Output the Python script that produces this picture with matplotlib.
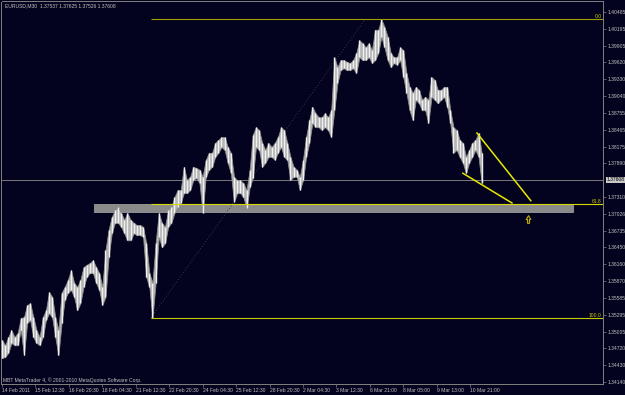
import numpy as np
import matplotlib
matplotlib.use('Agg')
import matplotlib.pyplot as plt
from matplotlib.patches import Rectangle
from matplotlib.path import Path
import matplotlib.transforms as mtransforms

# ---------------- data ----------------
symbol_text = "EURUSD,M30  1.37537 1.37625 1.37526 1.37608"
copyright_text = "MBT MetaTrader 4, \u00a9 2001-2010 MetaQuotes Software Corp."

bars_per_sample = 6  # one sample = 6 M30 bars

highs = [1.3486, 1.3477, 1.3491, 1.3503, 1.3491, 1.3498, 1.3524, 1.3525, 1.3546, 1.3549,
         1.3525, 1.3503, 1.3491, 1.3525, 1.3537, 1.3568, 1.3560, 1.3525, 1.3503, 1.3567,
         1.3577, 1.3589, 1.3606, 1.3584, 1.3577, 1.3589, 1.3611, 1.3615, 1.3618, 1.3623,
         1.3611, 1.3601, 1.3577, 1.3640, 1.3675, 1.3697, 1.3709, 1.3714, 1.3704, 1.3692,
         1.3704, 1.3692, 1.3687, 1.3683, 1.3683, 1.3680, 1.3652, 1.3601, 1.3584, 1.3652,
         1.3704, 1.3687, 1.3680, 1.3709, 1.3714, 1.3731, 1.3743, 1.3743, 1.3783, 1.3760,
         1.3766, 1.3783, 1.3781, 1.3778, 1.3766, 1.3795, 1.3807, 1.3807, 1.3824, 1.3829,
         1.3834, 1.3834, 1.3817, 1.3807, 1.3766, 1.3760, 1.3760, 1.3755, 1.3743, 1.3778,
         1.3838, 1.3851, 1.3846, 1.3824, 1.3812, 1.3824, 1.3817, 1.3824, 1.3834, 1.3851,
         1.3846, 1.3824, 1.3800, 1.3783, 1.3778, 1.3766, 1.3795, 1.3834, 1.3863, 1.3886,
         1.3875, 1.3868, 1.3868, 1.3875, 1.3868, 1.3880, 1.3971, 1.3954, 1.3966, 1.3966,
         1.3963, 1.3961, 1.3966, 1.3978, 1.4000, 1.3995, 1.3988, 1.3995, 1.3983, 1.4018,
         1.4018, 1.4036, 1.4023, 1.4006, 1.3978, 1.3971, 1.3971, 1.3988, 1.3983, 1.3944,
         1.3920, 1.3910, 1.3920, 1.3915, 1.3898, 1.3903, 1.3898, 1.3937, 1.3932, 1.3915,
         1.3915, 1.3920, 1.3920, 1.3880, 1.3851, 1.3846, 1.3829, 1.3824, 1.3800, 1.3812,
         1.3824, 1.3829, 1.3841, 1.3807]

lows = [1.3455, 1.3457, 1.3464, 1.3481, 1.3477, 1.3477, 1.3503, 1.3460, 1.3515, 1.3520,
        1.3491, 1.3481, 1.3477, 1.3491, 1.3520, 1.3532, 1.3525, 1.3491, 1.3460, 1.3515,
        1.3555, 1.3567, 1.3572, 1.3560, 1.3537, 1.3549, 1.3577, 1.3594, 1.3601, 1.3601,
        1.3584, 1.3572, 1.3546, 1.3560, 1.3628, 1.3669, 1.3687, 1.3687, 1.3680, 1.3669,
        1.3657, 1.3657, 1.3669, 1.3666, 1.3666, 1.3663, 1.3594, 1.3577, 1.3524, 1.3584,
        1.3663, 1.3645, 1.3652, 1.3680, 1.3687, 1.3704, 1.3714, 1.3721, 1.3738, 1.3738,
        1.3743, 1.3760, 1.3764, 1.3755, 1.3704, 1.3766, 1.3778, 1.3783, 1.3800, 1.3807,
        1.3817, 1.3812, 1.3790, 1.3772, 1.3723, 1.3738, 1.3738, 1.3731, 1.3712, 1.3748,
        1.3764, 1.3817, 1.3812, 1.3783, 1.3790, 1.3800, 1.3800, 1.3795, 1.3807, 1.3817,
        1.3800, 1.3795, 1.3760, 1.3766, 1.3766, 1.3743, 1.3760, 1.3800, 1.3824, 1.3858,
        1.3851, 1.3851, 1.3846, 1.3851, 1.3846, 1.3834, 1.3880, 1.3927, 1.3949, 1.3952,
        1.3949, 1.3949, 1.3952, 1.3944, 1.3971, 1.3966, 1.3966, 1.3971, 1.3961, 1.3966,
        1.3978, 1.4006, 1.3988, 1.3966, 1.3954, 1.3961, 1.3958, 1.3966, 1.3937, 1.3910,
        1.3880, 1.3863, 1.3898, 1.3892, 1.3880, 1.3880, 1.3858, 1.3903, 1.3898, 1.3892,
        1.3898, 1.3903, 1.3886, 1.3858, 1.3807, 1.3812, 1.3800, 1.3790, 1.3772, 1.3790,
        1.3800, 1.3812, 1.3800, 1.3755]

last_close = 1.37608

fib_low = 1.3524
fib_high = 1.4036
fib_ratios = [0.0, 0.618, 1.0]
fib_labels = ["0.0", "61.8", "100.0"]
fib_start_bar = 285
fib_end_bar = 695

zone_start_bar = 177
zone_end_bar = 1092
zone_low = 1.3706
zone_high = 1.3720

upper_line_bars = [909, 1012]
upper_line_prices = [1.3841, 1.3725]
lower_line_bars = [882, 976]
lower_line_prices = [1.3772, 1.3721]

arrow_bar = 1007
arrow_price = 1.3694

price_ticks = [1.40485, 1.40195, 1.39905, 1.39620, 1.39330, 1.39040, 1.38755, 1.38465,
               1.38175, 1.37890, 1.37310, 1.37026, 1.36735, 1.36450, 1.36160, 1.35870,
               1.35585, 1.35295, 1.35005, 1.34720, 1.34430, 1.34140]

date_labels = ["14 Feb 2011", "15 Feb 12:30", "16 Feb 20:30", "18 Feb 04:30",
               "21 Feb 12:30", "22 Feb 20:30", "24 Feb 04:30", "25 Feb 12:30",
               "28 Feb 20:30", "2 Mar 04:30", "3 Mar 12:30", "6 Mar 21:00",
               "8 Mar 05:00", "9 Mar 13:00", "10 Mar 21:00"]
bars_per_date_label = 64

# ---------------- style ----------------
BG = '#03031f'
TXT = '#c0c0c0'
AXC = '#808080'
FONT = 'Liberation Sans'
FS = 3.6

W, H = 625, 395
fig = plt.figure(figsize=(W / 100, H / 100), dpi=100, facecolor=BG)
left_px, right_px, top_px, bot_px = 1.5, 603.0, 1.5, 384.0
ax = fig.add_axes([left_px / W, (H - bot_px) / H, (right_px - left_px) / W, (bot_px - top_px) / H])
ax.set_facecolor(BG)

px_per_bar = 0.5225
x0_px = 2.0
ax.set_xlim((left_px - x0_px) / px_per_bar, (right_px - x0_px) / px_per_bar)
p_per_px = (1.40485 - 1.34140) / 370.0
ax.set_ylim(1.40485 - (bot_px - 12) * p_per_px, 1.40485 + (12 - top_px) * p_per_px)

# zone rectangle
ax.add_patch(Rectangle((zone_start_bar, zone_low), zone_end_bar - zone_start_bar,
                       zone_high - zone_low, facecolor='#8a8a8a', edgecolor='#9a9a9a',
                       lw=0.6, zorder=1))

# current price line
ax.axhline(last_close, color='#7a7a7a', lw=0.7, zorder=1)

# price bars: a continuous high-low band plus individual bar ranges
xs = np.arange(len(highs)) * bars_per_sample
ax.fill_between(xs, lows, highs, facecolor='#b4b4b4', edgecolor='#8a8a8a', lw=0.6, zorder=3)
ax.vlines(xs, lows, highs, color='#f0f0f0', lw=1.0, zorder=4)

# fibonacci
xmax = ax.get_xlim()[1]
fib_levels = [fib_high - r * (fib_high - fib_low) for r in fib_ratios]
fib_cols = ['#a0a000', '#d8d800', '#c8c800']
tr = mtransforms.blended_transform_factory(ax.transAxes, ax.transData)
for lvl, lab, c in zip(fib_levels, fib_labels, fib_cols):
    ax.hlines(lvl, fib_start_bar, xmax, color=c, lw=0.8, zorder=5)
    ax.text(0.998, lvl, lab, transform=tr, ha='right', va='bottom', color='#c8c800',
            fontsize=FS, family=FONT, zorder=6)
ax.plot([fib_start_bar, fib_end_bar], [fib_low, fib_high], color='#3a3a3a', lw=0.7,
        linestyle=(0, (1, 2)), zorder=2)

# trend lines
ax.plot(upper_line_bars, upper_line_prices, color='#e8e800', lw=1.1, zorder=6)
ax.plot(lower_line_bars, lower_line_prices, color='#e8e800', lw=1.1, zorder=6)

# hollow up arrow marker
arrow_verts = [(-0.25, -1.0), (0.25, -1.0), (0.25, 0.0), (0.6, 0.0), (0.0, 1.0),
               (-0.6, 0.0), (-0.25, 0.0), (-0.25, -1.0)]
arrow_path = Path(arrow_verts, [Path.MOVETO] + [Path.LINETO] * 6 + [Path.CLOSEPOLY])
ax.plot([arrow_bar], [arrow_price], marker=arrow_path, markersize=5.5,
        markerfacecolor='none', markeredgecolor='#c0b000', markeredgewidth=0.8,
        linestyle='none', zorder=6)

# axes
for s in ax.spines.values():
    s.set_color(AXC)
    s.set_linewidth(0.7)
ax.yaxis.tick_right()
ax.set_yticks(price_ticks)
ax.set_yticklabels([f"{p:.5f}" for p in price_ticks])
ax.tick_params(axis='y', direction='out', length=2.5, width=0.5, color=AXC, pad=1,
               labelsize=FS, labelcolor=TXT, right=True, left=False)
date_ticks = np.arange(len(date_labels)) * bars_per_date_label
ax.set_xticks(date_ticks)
ax.set_xticklabels(date_labels)
ax.tick_params(axis='x', direction='out', length=2.5, width=0.5, color=AXC, pad=0.5,
               labelsize=FS, labelcolor=TXT)
for lab in ax.get_xticklabels():
    lab.set_horizontalalignment('left')
    lab.set_family(FONT)
for lab in ax.get_yticklabels():
    lab.set_family(FONT)

# current price label on axis
ax.text(1.006, last_close, f"{last_close:.5f}", transform=tr, ha='left', va='center',
        fontsize=FS, family=FONT, color='#000000', clip_on=False,
        bbox=dict(boxstyle='square,pad=0.15', facecolor='#c8c8c8', edgecolor='none'))

fig.text(5 / W, 1 - 5.5 / H, symbol_text, ha='left', va='center', color=TXT,
         fontsize=FS, family=FONT)
fig.text(3 / W, 1 - 380.5 / H, copyright_text, ha='left', va='center', color=TXT,
         fontsize=FS, family=FONT)

fig.savefig('out.png', dpi=100, facecolor=BG)
